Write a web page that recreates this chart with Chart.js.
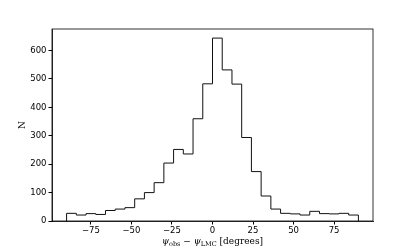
<!DOCTYPE html>
<html>
<head>
<meta charset="utf-8">
<script src="https://cdn.jsdelivr.net/npm/chart.js@4/dist/chart.umd.min.js"></script>
<style>
  html, body { margin: 0; padding: 0; background: #fff; }
  #wrap { width: 415px; height: 249px; }
</style>
</head>
<body>
<div id="wrap"><canvas id="hist"></canvas></div>
<script>
  // bin edges (degrees) and counts per bin
  const binEdges = [-90, -84, -78, -72, -66, -60, -54, -48, -42, -36, -30, -24, -18, -12, -6,
    0, 6, 12, 18, 24, 30, 36, 42, 48, 54, 60, 66, 72, 78, 84, 90];
  const counts = [27, 21, 26, 23, 37, 42, 47, 78, 100, 135, 204, 252, 236, 360, 483,
    644, 532, 482, 294, 174, 88, 42, 27, 25, 21, 34, 26, 25, 27, 21];
  const xTicks = [-75, -50, -25, 0, 25, 50, 75];
  const yTicks = [0, 100, 200, 300, 400, 500, 600];

  // step outline like histtype="step"
  const points = [{ x: binEdges[0], y: 0 }];
  counts.forEach((c, i) => points.push({ x: binEdges[i], y: c }));
  points.push({ x: binEdges[binEdges.length - 1], y: 0 });

  const tickFont = { family: "DejaVu Sans", size: 8.5 };

  // box around the plot area + x label with subscripts
  const frameAndLabel = {
    id: "frameAndLabel",
    afterDraw(chart) {
      const { ctx, chartArea } = chart;
      ctx.save();
      ctx.strokeStyle = "#000";
      ctx.lineWidth = 0.8;
      ctx.strokeRect(chartArea.left, chartArea.top, chartArea.right - chartArea.left, chartArea.bottom - chartArea.top);

      const parts = [
        { t: "ψ", f: "italic 9px DejaVu Serif", dy: 0 },
        { t: "obs", f: "6.5px DejaVu Serif", dy: 1.5 },
        { t: " − ", f: "9px DejaVu Serif", dy: 0 },
        { t: "ψ", f: "italic 9px DejaVu Serif", dy: 0 },
        { t: "LMC", f: "6.5px DejaVu Serif", dy: 1.5 },
        { t: " [degrees]", f: "9px DejaVu Serif", dy: 0 }
      ];
      let total = 0;
      parts.forEach((p) => { ctx.font = p.f; p.w = ctx.measureText(p.t).width; total += p.w; });
      let x = (chartArea.left + chartArea.right) / 2 - total / 2;
      const y = 244;
      ctx.fillStyle = "#000";
      ctx.textBaseline = "alphabetic";
      parts.forEach((p) => { ctx.font = p.f; ctx.fillText(p.t, x, y + p.dy); x += p.w; });
      ctx.restore();
    }
  };

  new Chart(document.getElementById("hist"), {
    type: "line",
    data: {
      datasets: [{
        data: points,
        stepped: "before",
        borderColor: "#111",
        borderWidth: 1,
        pointRadius: 0,
        fill: false
      }]
    },
    options: {
      responsive: true,
      maintainAspectRatio: false,
      animation: false,
      layout: { padding: { left: 0, right: 42, top: 29, bottom: 0 } },
      plugins: { legend: { display: false }, tooltip: { enabled: false } },
      scales: {
        x: {
          type: "linear",
          min: -99,
          max: 99,
          afterBuildTicks: (axis) => { axis.ticks = xTicks.map((v) => ({ value: v })); },
          afterFit: (axis) => { axis.height = 28; },
          grid: { display: true, drawOnChartArea: false, drawTicks: true, tickLength: 3.5, color: "#000" },
          border: { display: true, color: "#000", width: 0.8 },
          ticks: { color: "#000", font: tickFont, padding: 1, maxRotation: 0,
            callback: (v) => (v < 0 ? "−" + Math.abs(v) : String(v)) },
          title: { display: false }
        },
        y: {
          min: 0,
          max: 676,
          afterBuildTicks: (axis) => { axis.ticks = yTicks.map((v) => ({ value: v })); },
          afterFit: (axis) => { axis.width = 52; },
          grid: { display: true, drawOnChartArea: false, drawTicks: true, tickLength: 3.5, color: "#000" },
          border: { display: true, color: "#000", width: 0.8 },
          ticks: { color: "#000", font: tickFont, padding: 2 },
          title: { display: true, text: "N", color: "#000", font: { family: "DejaVu Serif", size: 9 }, padding: { top: 17, bottom: 0 } }
        }
      }
    },
    plugins: [frameAndLabel]
  });
</script>
</body>
</html>
